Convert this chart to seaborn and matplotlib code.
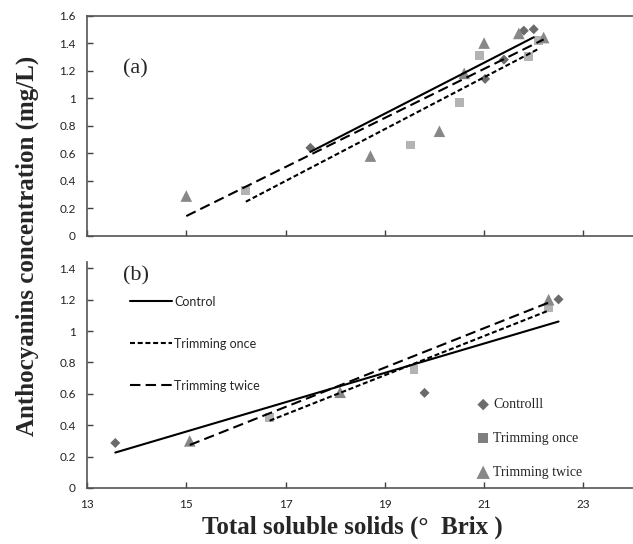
import matplotlib
matplotlib.use('Agg')
import matplotlib.pyplot as plt
import matplotlib.ticker as mticker
import numpy as np
import seaborn as sns
import pandas as pd

# panel (a)
a_ctrl_x = [17.5, 21.02, 21.4, 21.8, 22.0]
a_ctrl_y = [0.64, 1.14, 1.28, 1.49, 1.50]
a_once_x = [16.2, 19.51, 20.5, 20.9, 21.9, 22.1]
a_once_y = [0.33, 0.66, 0.97, 1.31, 1.30, 1.42]
a_twice_x = [15.0, 18.71, 20.1, 20.6, 21.0, 21.7, 22.2]
a_twice_y = [0.29, 0.58, 0.76, 1.18, 1.40, 1.47, 1.44]

# panel (b)
b_ctrl_x = [13.57, 19.8, 22.5]
b_ctrl_y = [0.287, 0.606, 1.202]
b_once_x = [16.68, 19.59, 22.3]
b_once_y = [0.447, 0.755, 1.15]
b_twice_x = [15.07, 18.1, 22.3]
b_twice_y = [0.30, 0.61, 1.20]

line_labels = ['Control', 'Trimming once', 'Trimming twice']
marker_labels = ['Controlll', 'Trimming once', 'Trimming twice']
x_ticks = [13, 15, 17, 19, 21, 23]

sns.set_style('ticks')
plt.rcParams['font.family'] = ['Lato', 'DejaVu Sans']
serif = ['Liberation Serif', 'DejaVu Serif']

marker_style = {'Control': ('D', '#6b6b6b', 26),
                'Trimming once': ('s', '#b3b3b3', 40),
                'Trimming twice': ('^', '#888888', 70)}
line_style = {'Control': '-',
              'Trimming once': (0, (2.4, 1.3)),
              'Trimming twice': (0, (5, 2.5))}

fig = plt.figure(figsize=(6.33, 5.44), dpi=100)
ax_a = fig.add_axes([87/633, 308/544, 546/633, 220.5/544])
ax_b = fig.add_axes([87/633, 56/544, 546/633, 226/544])


def draw_panel(ax, xs, ys):
    df = pd.concat([pd.DataFrame({'x': x, 'y': y, 'treat': t})
                    for x, y, t in zip(xs, ys, line_labels)])
    for t in line_labels:
        d = df[df.treat == t]
        sns.regplot(data=d, x='x', y='y', scatter=False, ci=None, truncate=True,
                    ax=ax, label=t,
                    line_kws=dict(color='black', lw=1.5, ls=line_style[t]))
    for t, lab in zip(line_labels, marker_labels):
        d = df[df.treat == t]
        m, c, s = marker_style[t]
        sns.scatterplot(data=d, x='x', y='y', marker=m, color=c, s=s,
                        edgecolor='none', ax=ax, label=lab, zorder=1)
    ax.set_xlim(13, 24)
    ax.set_xticks(x_ticks)
    ax.set_xlabel('')
    ax.set_ylabel('')
    ax.tick_params(direction='in', length=4, width=1, colors='#404040',
                   labelsize=8.5, labelcolor='#222222', pad=8)
    ax.yaxis.set_major_formatter(mticker.FuncFormatter(lambda v, p: f'{v:g}'))
    ax.spines['right'].set_visible(False)
    for sp in ['left', 'bottom', 'top']:
        ax.spines[sp].set_color('#555555')
        ax.spines[sp].set_linewidth(1.2)


draw_panel(ax_a, [a_ctrl_x, a_once_x, a_twice_x], [a_ctrl_y, a_once_y, a_twice_y])
draw_panel(ax_b, [b_ctrl_x, b_once_x, b_twice_x], [b_ctrl_y, b_once_y, b_twice_y])

ax_a.set_ylim(0, 1.6)
ax_a.set_yticks(np.arange(0, 1.61, 0.2))
ax_a.tick_params(axis='x', labelbottom=False)
ax_a.get_legend().remove()

ax_b.set_ylim(0, 1.44)
ax_b.set_yticks(np.arange(0, 1.41, 0.2))
ax_b.spines['top'].set_visible(False)

handles, labels = ax_b.get_legend_handles_labels()
leg1 = ax_b.legend(handles[:3], labels[:3], loc='upper left',
                   bbox_to_anchor=(0.058, 0.9), frameon=False, fontsize=9,
                   handlelength=3.4, handletextpad=0.15, labelspacing=2.4)
ax_b.add_artist(leg1)
leg2 = ax_b.legend(handles[3:], labels[3:], loc='lower left',
                   bbox_to_anchor=(0.69, -0.015), frameon=False,
                   prop={'family': serif, 'size': 10}, markerscale=1.15,
                   handlelength=1, handletextpad=0.2, labelspacing=1.5)
leg2.legend_handles[1].set_facecolor('#7f7f7f')

ax_a.text(0.066, 0.757, '(a)', transform=ax_a.transAxes, family=serif,
          fontsize=16, va='center', ha='left')
ax_b.text(0.066, 0.94, '(b)', transform=ax_b.transAxes, family=serif,
          fontsize=16, va='center', ha='left')

fig.text(0.043, 0.548, 'Anthocyanins concentration (mg/L)', rotation=90,
         family=serif, fontweight='bold', fontsize=18, ha='center', va='center')
fig.text(0.556, 0.031, 'Total soluble solids (°  Brix )', family=serif,
         fontweight='bold', fontsize=18, ha='center', va='center')

plt.savefig('out.png', dpi=100)
